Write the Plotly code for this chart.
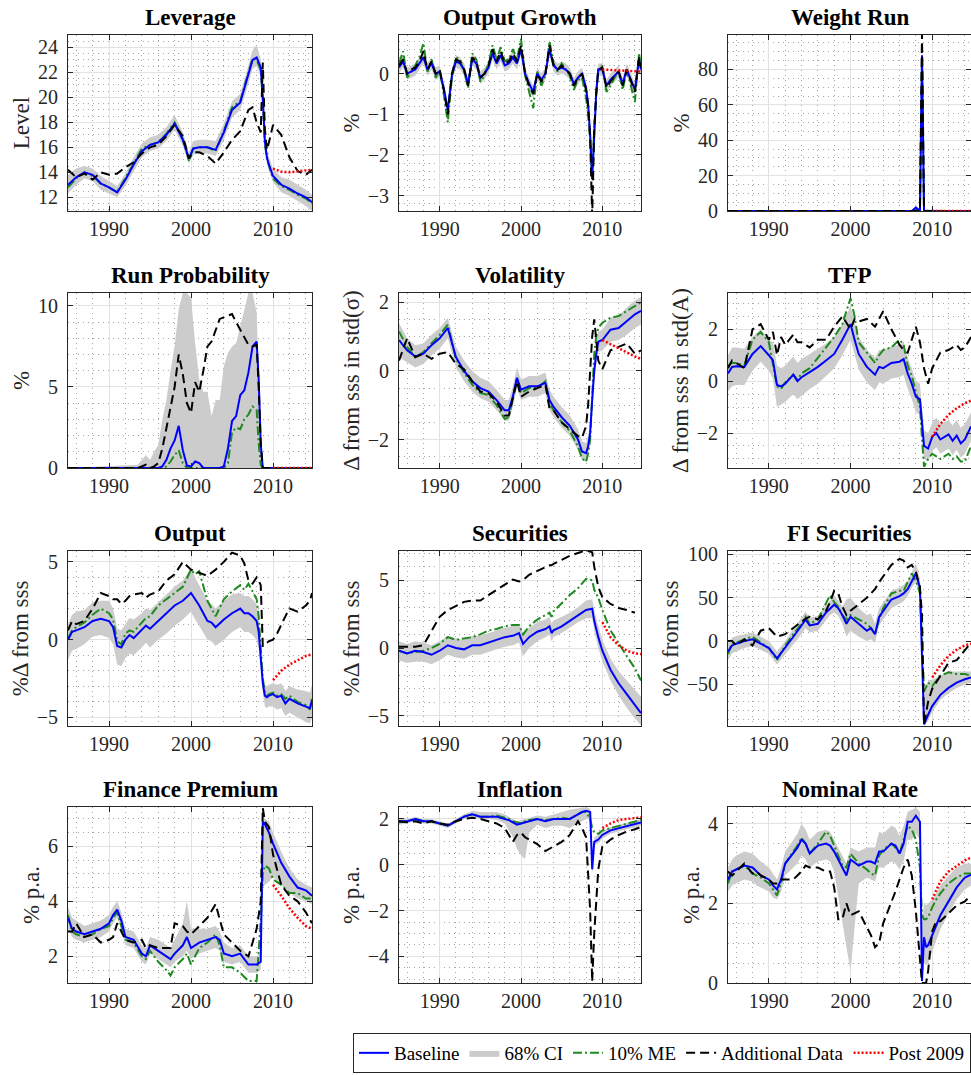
import plotly.graph_objects as go

FONT = "Liberation Serif"
W, H = 971, 1075

post_t = [2010, 2011, 2012, 2013, 2014, 2014.75]

# ---------------- Leverage ----------------
lev_t = [1985, 1986, 1987, 1988, 1989, 1990, 1991, 1992, 1993, 1994, 1995, 1996, 1997, 1998, 1999, 1999.75, 2000.25,
         2001, 2002, 2003, 2004, 2005, 2006, 2007, 2007.5, 2008, 2008.5, 2008.75, 2009, 2009.25, 2009.5, 2010, 2011,
         2012, 2013, 2014, 2014.75]
lev_base = [13.0, 13.6, 14.0, 13.8, 13.1, 12.8, 12.4, 13.4, 14.6, 15.7, 16.2, 16.4, 17.0, 17.9, 16.6, 15.1, 15.9, 16.0,
            16.0, 15.8, 17.2, 19.0, 19.6, 21.8, 23.0, 23.2, 22.4, 20.0, 16.5, 15.2, 14.6, 13.7, 13.0, 12.7, 12.3, 12.0, 11.6]
lev_lo = [12.3, 13.0, 13.5, 13.3, 12.6, 12.3, 12.0, 12.9, 14.1, 15.2, 15.7, 15.9, 16.5, 17.4, 16.1, 14.7, 15.4, 15.5,
          15.5, 15.3, 16.6, 18.4, 19.0, 21.1, 22.3, 22.5, 21.7, 19.4, 16.0, 14.7, 14.1, 13.2, 12.4, 12.1, 11.7, 11.3, 10.9]
lev_hi = [13.8, 14.3, 14.5, 14.3, 13.7, 13.3, 12.9, 13.9, 15.2, 16.3, 16.8, 17.0, 17.6, 18.6, 17.2, 15.6, 16.5, 16.6,
          16.6, 16.5, 17.9, 19.7, 20.3, 22.6, 23.8, 24.2, 23.1, 20.7, 17.0, 15.8, 15.2, 14.3, 13.6, 13.4, 13.0, 12.6, 12.2]
lev_me = [12.8, 13.5, 14.0, 13.7, 13.1, 12.8, 12.4, 13.5, 14.7, 15.9, 16.2, 16.4, 17.1, 18.0, 16.7, 14.9, 15.9, 16.0,
          16.0, 15.7, 17.3, 19.2, 19.7, 22.0, 23.1, 23.0, 22.2, 19.8, 16.3, 15.1, 14.5, 13.5, 12.9, 12.6, 12.2, 11.9, 11.5]
lev_add = [14.2, 13.6, 13.9, 13.4, 14.0, 13.8, 13.9, 14.4, 14.8, 15.5, 16.0, 16.2, 16.9, 17.8, 16.9, 15.1, 15.6, 15.6,
           15.3, 14.7, 15.6, 16.6, 17.3, 19.0, 19.2, 18.0, 17.2, 22.8, 17.5, 15.8, 16.4, 17.8, 17.0, 15.2, 14.1, 13.8, 14.2]
lev_post = [14.3, 14.05, 14.0, 14.05, 14.15, 14.2]

# ---------------- Output Growth ----------------
og_t = [1985, 1985.5, 1986, 1986.5, 1987, 1987.5, 1988, 1988.5, 1989, 1989.5, 1990, 1990.5, 1991, 1991.5, 1992, 1992.5,
        1993, 1993.5, 1994, 1994.5, 1995, 1995.5, 1996, 1996.5, 1997, 1997.5, 1998, 1998.5, 1999, 1999.5, 2000, 2000.5,
        2001, 2001.5, 2002, 2002.5, 2003, 2003.5, 2004, 2004.5, 2005, 2005.5, 2006, 2006.5, 2007, 2007.5, 2008, 2008.25,
        2008.5, 2008.75, 2009, 2009.25, 2009.5, 2010, 2010.5, 2011, 2011.5, 2012, 2012.5, 2013, 2013.5, 2014, 2014.5,
        2014.75]
og_base = [0.15, 0.3, 0.0, 0.05, 0.1, 0.25, 0.4, 0.1, 0.25, 0.0,
           0.05, -0.35, -0.9, -0.05, 0.3, 0.25, 0.1, -0.25, 0.35, 0.25,
           -0.1, 0.0, 0.15, 0.5, 0.25, 0.45, 0.2, 0.25, 0.4, 0.25,
           0.6, 0.0, -0.25, -0.45, 0.0, -0.15, 0.0, 0.6, 0.2, 0.1,
           0.15, 0.1, 0.0, -0.25, -0.1, 0.0, -0.35, -0.75, -1.5, -2.6,
           -1.3, -0.45, 0.1, 0.1, -0.3, -0.15, -0.05, 0.05, -0.25, 0.1,
           -0.15, -0.4, 0.35, 0.1]
og_lo = [0.0, 0.15, -0.15, -0.1, -0.05, 0.1, 0.25, -0.05, 0.1, -0.15,
         -0.1, -0.5, -1.05, -0.2, 0.15, 0.1, -0.05, -0.4, 0.2, 0.1,
         -0.25, -0.15, 0.0, 0.35, 0.1, 0.3, 0.05, 0.1, 0.25, 0.1,
         0.45, -0.15, -0.4, -0.6, -0.15, -0.3, -0.15, 0.45, 0.05, -0.05,
         0.0, -0.05, -0.15, -0.4, -0.25, -0.15, -0.5, -0.9, -1.65, -2.75,
         -1.45, -0.6, -0.05, -0.05, -0.45, -0.3, -0.2, -0.1, -0.4, -0.05,
         -0.3, -0.55, 0.2, -0.05]
og_hi = [0.3, 0.45, 0.15, 0.2, 0.25, 0.4, 0.55, 0.25, 0.4, 0.15,
         0.2, -0.2, -0.75, 0.1, 0.45, 0.4, 0.25, -0.1, 0.5, 0.4,
         0.05, 0.15, 0.3, 0.65, 0.4, 0.6, 0.35, 0.4, 0.55, 0.4,
         0.75, 0.15, -0.1, -0.3, 0.15, 0.0, 0.15, 0.75, 0.35, 0.25,
         0.3, 0.25, 0.15, -0.1, 0.05, 0.15, -0.2, -0.6, -1.35, -2.45,
         -1.15, -0.3, 0.25, 0.25, -0.15, 0.0, 0.1, 0.2, -0.1, 0.25,
         0.0, -0.25, 0.5, 0.25]
og_me = [0.25, 0.55, -0.1, 0.05, 0.2, 0.4, 0.75, 0.05, 0.35, -0.1,
         0.1, -0.5, -1.2, -0.1, 0.4, 0.35, 0.05, -0.35, 0.5, 0.35,
         -0.2, -0.05, 0.25, 0.7, 0.35, 0.65, 0.3, 0.35, 0.6, 0.35,
         0.85, -0.05, -0.45, -0.85, 0.05, -0.3, -0.05, 0.8, 0.25, 0.05,
         0.25, 0.1, -0.05, -0.4, -0.15, -0.1, -0.6, -1.0, -1.6, -2.6,
         -1.3, -0.5, 0.1, 0.2, -0.45, -0.3, -0.1, 0.05, -0.4, 0.1,
         -0.3, -0.7, 0.5, 0.2]
og_add = [0.2, 0.35, 0.0, 0.1, 0.15, 0.3, 0.55, 0.1, 0.3, 0.0,
          0.1, -0.4, -1.0, 0.0, 0.35, 0.3, 0.1, -0.3, 0.4, 0.3,
          -0.1, 0.0, 0.2, 0.6, 0.3, 0.55, 0.25, 0.3, 0.5, 0.3,
          0.7, 0.0, -0.3, -0.5, 0.0, -0.2, 0.0, 0.7, 0.2, 0.1,
          0.2, 0.1, 0.0, -0.3, -0.1, 0.0, -0.4, -0.8, -1.6, -3.5,
          -1.4, -0.5, 0.1, 0.15, -0.35, -0.2, -0.05, 0.05, -0.3, 0.1,
          -0.2, -0.45, 0.4, 0.15]
og_post = [0.1, 0.09, 0.08, 0.07, 0.06, 0.05]

# ---------------- Weight Run ----------------
wr_t = [1985, 2007.5, 2008, 2008.25, 2008.5, 2008.75, 2009, 2014.75]
wr_base = [0, 0, 2, 1, 0, 88, 0, 0]
wr_lo = [0, 0, 1, 0, 0, 80, 0, 0]
wr_hi = [0, 0, 3, 2, 1, 95, 1, 0]
wr_me = [0, 0, 1, 0.5, 0, 86, 0, 0]
wr_add = [0, 0, 0, 0, 0, 100, 0, 0]
wr_post = [0, 0, 0, 0, 0, 0]

# ---------------- Run Probability ----------------
rp_t = [1985, 1993.5, 1994.5, 1995, 1995.5, 1996, 1996.5, 1997, 1997.5, 1998, 1998.5, 1999, 1999.5, 2000, 2000.5, 2001,
        2001.5, 2002, 2002.5, 2003, 2003.5, 2004, 2004.5, 2005, 2005.5, 2006, 2006.5, 2007, 2007.5, 2008, 2008.25,
        2008.5, 2008.75, 2009, 2014.75]
rp_base = [0, 0, 0, 0, 0, 0, 0.1, 0.5, 1.2, 1.7, 2.6, 1.1, 0.15, 0.1, 0.4, 0.3, 0.0, 0, 0, 0, 0, 0.1, 1.2, 2.9, 3.2,
           4.5, 4.8, 5.9, 7.5, 7.8, 5.5, 1.5, 0, 0, 0]
rp_lo = [0, 0, 0, 0, 0, 0, 0, 0, 0, 0, 0, 0, 0, 0, 0, 0, 0, 0, 0, 0, 0, 0, 0, 0, 0, 0, 0, 0, 0, 0, 0, 0, 0, 0, 0]
rp_hi = [0, 0.2, 0.8, 0.5, 1.0, 1.4, 3.0, 4.2, 6.0, 7.5, 9.8, 10.8, 10.8, 10.5, 7.7, 5.5, 4.7, 4.7, 3.2, 4.2, 4.2, 6.3,
         7.1, 7.5, 7.7, 8.8, 9.8, 10.8, 10.8, 9.6, 5.7, 2.0, 0, 0, 0]
rp_me = [0, 0, 0, 0, 0, 0, 0, 0.1, 0.4, 0.8, 1.1, 0.3, 0, 0, 0, 0, 0, 0, 0, 0, 0, 0, 0.3, 2.2, 2.5, 2.4, 3.0, 3.3, 3.8,
         3.6, 1.5, 0.2, 0, 0, 0]
rp_add = [0, 0, 0.2, 0.0, 0.1, 0.3, 1.2, 2.5, 3.6, 5.0, 7.0, 5.8, 4.0, 3.4, 5.3, 4.7, 6.0, 7.5, 7.8, 8.5, 9.2, 9.3, 9.4,
          9.5, 9.0, 8.5, 8.0, 7.6, 7.5, 7.6, 5.0, 1.5, 0, 0, 0]
rp_post = [0, 0, 0, 0, 0, 0]

# ---------------- Volatility ----------------
vol_t = [1985, 1986, 1987, 1988, 1989, 1990, 1991, 1992, 1993, 1994, 1995, 1996, 1997, 1998, 1998.5, 1999, 1999.5, 2000,
         2001, 2002, 2003, 2003.5, 2004, 2005, 2006, 2007, 2007.5, 2008, 2008.25, 2008.5, 2008.75, 2009, 2009.25,
         2009.5, 2010, 2011, 2012, 2013, 2014, 2014.75]
vol_base = [0.9, 0.6, 0.42, 0.5, 0.75, 0.95, 1.25, 0.4, 0.0, -0.3, -0.5, -0.6, -0.85, -1.15, -1.15, -0.75, -0.2, -0.55,
            -0.45, -0.45, -0.35, -0.85, -1.05, -1.35, -1.6, -2.0, -2.35, -2.4, -2.2, -1.8, -0.85, 0.0, 0.5, 0.85, 0.9,
            1.2, 1.25, 1.45, 1.65, 1.75]
vol_lo = [0.4, 0.25, 0.1, 0.2, 0.45, 0.65, 0.95, 0.1, -0.3, -0.6, -0.8, -0.9, -1.15, -1.45, -1.45, -1.05, -0.5, -0.85,
          -0.75, -0.75, -0.65, -1.15, -1.35, -1.65, -1.9, -2.3, -2.6, -2.65, -2.45, -2.1, -1.15, -0.3, 0.2, 0.55, 0.6,
          0.85, 0.9, 1.05, 1.25, 1.35]
vol_hi = [1.4, 0.95, 0.75, 0.8, 1.05, 1.25, 1.55, 0.7, 0.3, 0.0, -0.2, -0.3, -0.55, -0.85, -0.85, -0.45, 0.1, -0.25,
          -0.15, -0.15, -0.05, -0.55, -0.75, -1.05, -1.3, -1.7, -2.05, -2.1, -1.9, -1.5, -0.55, 0.3, 0.8, 1.15, 1.2,
          1.55, 1.6, 1.85, 2.05, 2.15]
vol_me = [1.15, 0.7, 0.4, 0.55, 0.8, 1.05, 1.35, 0.35, -0.05, -0.4, -0.65, -0.7, -1.0, -1.4, -1.35, -0.8, -0.2, -0.65,
          -0.5, -0.5, -0.3, -0.95, -1.15, -1.5, -1.75, -2.2, -2.55, -2.65, -2.4, -2.0, -0.6, 0.5, 1.0, 1.25, 1.4, 1.55,
          1.6, 1.75, 1.9, 2.0]
vol_add = [0.3, 0.95, 0.4, 0.5, 0.35, 0.5, 0.55, 0.2, 0.05, -0.3, -0.6, -0.65, -0.9, -1.3, -1.3, -0.8, -0.3, -0.75,
           -0.6, -0.5, -0.4, -1.1, -1.15, -1.5, -1.7, -1.9, -1.95, -1.6, -1.0, 0.0, 1.0, 1.5, 0.8, 0.3, 0.05, 0.6, 0.7,
           0.8, 0.5, 0.6]
vol_post = [0.9, 0.78, 0.65, 0.53, 0.42, 0.35]

# ---------------- TFP ----------------
tfp_t = [1985, 1985.5, 1986, 1987, 1988, 1989, 1990, 1990.5, 1991, 1991.5, 1992, 1993, 1993.5, 1994, 1995, 1996, 1997,
         1998, 1999, 2000, 2000.5, 2001, 2002, 2003, 2003.5, 2004, 2005, 2006, 2006.5, 2007, 2007.5, 2008, 2008.5,
         2008.75, 2009, 2009.5, 2010, 2010.5, 2011, 2012, 2012.5, 2013, 2013.5, 2014, 2014.75]
tfp_base = [0.3, 0.55, 0.57, 0.55, 1.05, 1.35, 1.0, 0.8, -0.15, -0.2, -0.1, 0.25, 0.0, 0.15, 0.35, 0.55, 0.8, 1.05, 1.6,
            2.2, 1.6, 1.05, 0.55, 0.25, 0.55, 0.5, 0.7, 0.75, 0.85, 0.3, -0.1, -0.6, -0.7, -1.5, -2.5, -2.6, -2.15,
            -2.0, -2.25, -2.05, -2.3, -2.1, -2.4, -2.25, -1.75]
tfp_lo = [-0.4, -0.2, -0.15, -0.15, 0.4, 0.75, 0.4, 0.1, -1.0, -0.9, -0.8, -0.5, -0.7, -0.55, -0.3, -0.1, 0.2, 0.5, 1.0,
          1.6, 1.0, 0.45, -0.05, -0.35, -0.05, -0.1, 0.1, 0.15, 0.25, -0.3, -0.7, -1.2, -1.3, -2.1, -3.0, -3.1, -2.7,
          -2.55, -2.8, -2.6, -2.85, -2.65, -2.95, -2.8, -2.3]
tfp_hi = [1.0, 1.3, 1.3, 1.25, 1.7, 2.0, 1.6, 1.5, 0.6, 0.5, 0.6, 0.95, 0.7, 0.85, 1.05, 1.25, 1.45, 1.7, 2.2, 2.9, 2.3,
          1.7, 1.2, 0.9, 1.2, 1.2, 1.35, 1.4, 1.5, 0.9, 0.5, 0.0, -0.1, -0.9, -1.9, -2.0, -1.6, -1.4, -1.65, -1.5,
          -1.7, -1.5, -1.8, -1.65, -1.2]
tfp_me = [0.6, 0.7, 0.7, 0.6, 1.6, 1.9, 1.5, 0.7, -0.2, -0.3, -0.05, 0.25, 0.05, 0.3, 0.5, 0.9, 1.3, 1.7, 2.2, 3.2, 2.5,
          1.5, 1.1, 0.7, 1.0, 1.2, 1.3, 1.6, 1.4, 0.6, 0.2, -0.4, -1.0, -2.2, -3.3, -3.0, -2.8, -2.9, -3.0, -2.8, -3.0,
          -2.9, -3.1, -3.1, -2.5]
tfp_add = [0.5, 0.8, 0.7, 0.5, 2.0, 2.2, 1.6, 1.9, 1.0, 1.7, 1.4, 1.8, 1.5, 1.5, 1.3, 1.6, 1.6, 2.1, 2.5, 2.0, 2.4, 2.3,
           2.4, 2.1, 2.4, 2.7, 2.0, 1.4, 1.2, 1.1, 1.6, 2.1, 1.5, 1.0, 0.5, -0.1, 0.5, 0.8, 1.1, 1.2, 1.3, 1.4, 1.2, 1.3,
           1.7]
tfp_post = [-2.15, -1.65, -1.3, -1.05, -0.85, -0.75]

# ---------------- Output ----------------
out_t = [1985, 1985.5, 1986, 1987, 1988, 1989, 1990, 1990.5, 1991, 1991.5, 1992, 1992.5, 1993, 1994, 1994.5, 1995, 1996,
         1997, 1998, 1999, 2000, 2000.5, 2001, 2002, 2002.5, 2003, 2004, 2005, 2006, 2006.5, 2007, 2007.5, 2008,
         2008.25, 2008.5, 2008.75, 2009, 2009.25, 2009.5, 2010, 2010.5, 2011, 2011.5, 2012, 2013, 2014, 2014.5, 2014.75]
out_base = [0.0, 0.5, 0.6, 0.8, 1.2, 1.35, 1.2, 0.8, -0.4, -0.5, 0.0, 0.3, 0.1, 0.6, 0.9, 0.7, 1.2, 1.7, 2.2, 2.5, 3.0,
            2.6, 2.2, 1.2, 1.1, 0.8, 1.3, 1.7, 2.0, 1.7, 1.7, 1.5, 1.2, 0.5, -1.0, -2.8, -3.6, -3.7, -3.6, -3.5, -3.7,
            -3.6, -4.1, -3.8, -4.1, -4.3, -4.4, -3.9]
out_lo = [-1.3, -0.7, -0.6, -0.3, 0.2, 0.3, 0.1, -0.3, -1.6, -1.7, -1.2, -0.9, -1.0, -0.5, -0.2, -0.5, 0.0, 0.4, 0.9,
          1.3, 1.8, 1.3, 0.9, 0.0, -0.1, -0.4, 0.0, 0.5, 0.8, 0.5, 0.5, 0.3, 0.0, -0.6, -1.8, -3.4, -4.3, -4.4, -4.3,
          -4.3, -4.5, -4.4, -4.9, -4.7, -5.0, -5.3, -5.4, -5.0]
out_hi = [1.0, 1.6, 1.8, 1.9, 2.4, 2.5, 2.5, 2.0, 0.7, 0.6, 1.0, 1.4, 1.3, 1.7, 2.0, 1.9, 2.4, 2.9, 3.4, 3.8, 4.6, 4.0,
          3.5, 2.5, 2.3, 2.0, 2.5, 2.9, 3.0, 2.8, 2.8, 2.6, 2.3, 1.5, -0.2, -2.2, -2.9, -3.0, -2.9, -2.8, -2.9, -2.8,
          -3.3, -3.0, -3.2, -3.3, -3.4, -2.9]
out_me = [0.1, 0.6, 0.8, 1.1, 1.6, 2.0, 1.7, 1.3, -0.1, -0.3, 0.4, 0.6, 0.5, 1.1, 1.4, 1.5, 2.2, 2.6, 3.0, 3.4, 4.5, 4.2,
          4.4, 2.5, 2.0, 1.5, 2.6, 3.1, 3.5, 3.2, 3.6, 3.1, 2.6, 1.5, -0.5, -2.5, -3.4, -3.6, -3.5, -3.4, -3.6, -3.5,
          -3.8, -3.6, -4.0, -4.2, -4.5, -3.7]
out_add = [0.6, 1.2, 1.0, 1.2, 2.0, 3.0, 2.8, 2.6, 2.6, 2.3, 2.5, 2.8, 2.9, 3.0, 2.7, 2.9, 3.1, 3.8, 4.2, 5.0, 4.5, 4.4,
           4.3, 4.1, 4.3, 4.5, 5.0, 5.6, 5.4, 4.9, 3.8, 3.6, 4.0, 3.8, 3.5, -0.4, -0.4, -0.2, -0.1, 0.0, 0.4, 1.0, 1.5,
           2.0, 1.8, 2.2, 2.5, 3.0]
out_post = [-2.6, -2.0, -1.6, -1.3, -1.05, -0.95]

# ---------------- Securities ----------------
sec_t = [1985, 1986, 1987, 1988, 1989, 1990, 1991, 1992, 1993, 1994, 1995, 1996, 1997, 1998, 1999, 1999.75, 2000.25,
         2001, 2002, 2003, 2003.5, 2003.75, 2004, 2005, 2006, 2007, 2008, 2008.75, 2009, 2009.5, 2010, 2011, 2012,
         2013, 2014, 2014.75]
sec_base = [-0.2, -0.4, -0.2, -0.3, -0.5, -0.2, 0.2, 0.0, -0.1, 0.2, 0.2, 0.4, 0.6, 0.8, 0.9, 1.1, 0.3, 0.8, 1.2, 1.4,
            1.6, 1.1, 1.3, 1.6, 2.0, 2.4, 2.8, 2.9, 2.0, 0.8, -0.2, -1.6, -2.6, -3.4, -4.2, -4.8]
sec_lo = [-0.9, -1.1, -1.0, -1.0, -1.2, -0.9, -0.5, -0.7, -0.8, -0.5, -0.5, -0.3, -0.1, 0.1, 0.2, 0.4, -0.6, 0.0, 0.5,
          0.8, 1.0, 0.5, 0.8, 1.1, 1.5, 1.9, 2.2, 2.2, 1.3, 0.0, -1.0, -2.4, -3.5, -4.4, -5.2, -5.7]
sec_hi = [0.5, 0.3, 0.5, 0.4, 0.2, 0.5, 0.9, 0.7, 0.6, 0.9, 0.9, 1.1, 1.3, 1.5, 1.6, 1.8, 1.1, 1.5, 1.9, 2.1, 2.3, 1.8,
          2.0, 2.3, 2.6, 3.0, 3.5, 3.6, 2.8, 1.6, 0.6, -0.8, -1.7, -2.4, -3.1, -3.6]
sec_me = [-0.2, -0.4, -0.3, -0.2, 0.0, 0.3, 0.8, 0.6, 0.7, 0.8, 1.0, 1.3, 1.4, 1.6, 1.7, 1.7, 1.0, 1.6, 2.1, 2.4, 2.6,
          2.3, 2.7, 3.3, 3.9, 4.4, 5.1, 5.0, 4.3, 3.7, 2.8, 1.3, 0.3, -0.6, -1.5, -2.4]
sec_add = [0.1, 0.1, 0.1, 0.2, 1.3, 2.3, 2.8, 3.1, 3.4, 3.5, 3.5, 3.9, 4.3, 4.7, 5.05, 4.9, 5.0, 5.4, 5.7, 6.0, 6.1,
           6.1, 6.2, 6.5, 6.8, 7.0, 7.2, 7.05, 6.0, 4.5, 3.75, 3.25, 2.95, 2.8, 2.6, None]
sec_post = [1.9, 0.8, 0.2, -0.2, -0.4, -0.45]

# ---------------- FI Securities ----------------
fis_t = [1985, 1985.5, 1986, 1987, 1988, 1989, 1990, 1991, 1992, 1993, 1994, 1994.5, 1995, 1996, 1997, 1997.5, 1998,
         1998.5, 1999, 1999.5, 2000, 2001, 2002, 2002.5, 2003, 2003.5, 2004, 2005, 2006, 2006.5, 2007, 2007.5, 2008,
         2008.5, 2008.75, 2009, 2009.5, 2010, 2011, 2012, 2013, 2014, 2014.75]
fis_base = [-12, -5, -3, 0, 2, -3, -8, -20, -8, 5, 18, 25, 18, 20, 33, 38, 42, 38, 30, 20, 28, 20, 12, 15, 8, 28, 35,
            48, 52, 55, 60, 70, 78, 62, -20, -96, -85, -75, -62, -54, -48, -44, -42]
fis_lo = [-22, -14, -12, -8, -6, -10, -15, -27, -16, -4, 8, 15, 10, 12, 24, 30, 33, 29, 20, 5, 12, 5, 0, 2, -2, 18, 25,
          38, 43, 46, 52, 62, 68, 52, -30, -98, -92, -82, -68, -60, -54, -50, -48]
fis_hi = [-2, 4, 6, 8, 10, 5, 0, -12, 0, 14, 28, 34, 27, 29, 42, 47, 52, 47, 40, 48, 50, 38, 30, 32, 20, 38, 45, 58, 62,
          65, 70, 80, 90, 72, -10, -60, -45, -45, -40, -35, -35, -35, -35]
fis_me = [-15, -2, -2, 2, 5, -2, -8, -22, -5, 8, 20, 28, 20, 25, 45, 53, 45, 40, 30, 25, 30, 25, 20, 15, 8, 25, 38, 55,
          58, 58, 68, 78, 70, 55, 0, -58, -48, -52, -40, -36, -38, -38, -40]
fis_add = [0, 0, -5, 2, -5, 12, 15, 5, 8, 15, 22, 26, 28, 25, 35, 45, 58, 55, 40, 30, 35, 42, 50, 55, 60, 68, 75, 88, 95,
           93, 85, 88, 80, 62, 30, -96, -70, -55, -40, -25, -22, -10, -2]
fis_post = [-42, -28, -17, -10, -5, -3]

# ---------------- Finance Premium ----------------
fp_t = [1985, 1985.5, 1986, 1987, 1988, 1989, 1990, 1990.5, 1991, 1991.5, 1992, 1993, 1994, 1994.5, 1995, 1996, 1997,
        1997.5, 1998, 1999, 1999.5, 2000, 2001, 2002, 2003, 2003.5, 2004, 2005, 2006, 2007, 2008, 2008.5, 2008.75,
        2009, 2009.5, 2010, 2011, 2012, 2013, 2014, 2014.75]
fp_base = [3.4, 3.0, 2.9, 2.8, 2.9, 3.0, 3.2, 3.5, 3.7, 3.3, 2.7, 2.6, 2.1, 2.0, 2.4, 2.2, 2.0, 1.9, 2.1, 2.4, 2.7, 2.3,
           2.5, 2.6, 2.7, 2.6, 2.1, 2.0, 2.1, 1.7, 1.7, 1.8, 6.9, 6.8, 6.5, 6.1, 5.4, 4.9, 4.5, 4.4, 4.2]
fp_lo = [3.0, 2.7, 2.6, 2.5, 2.6, 2.7, 2.9, 3.2, 3.4, 3.0, 2.4, 2.3, 1.8, 1.7, 2.1, 1.9, 1.7, 1.6, 1.8, 2.0, 2.2, 1.9,
         2.1, 2.2, 2.3, 2.2, 1.8, 1.7, 1.8, 1.4, 1.4, 1.5, 4.5, 4.6, 4.7, 4.9, 4.6, 4.3, 4.1, 4.0, 3.9]
fp_hi = [3.8, 3.4, 3.3, 3.1, 3.2, 3.3, 3.5, 3.8, 4.0, 3.6, 3.0, 2.9, 2.4, 2.3, 2.7, 2.6, 2.4, 2.3, 2.6, 3.2, 4.0, 3.0,
         3.0, 3.0, 3.1, 2.9, 2.5, 2.3, 2.4, 2.0, 2.0, 2.1, 7.2, 7.0, 6.9, 6.5, 5.8, 5.2, 4.8, 4.6, 4.5]
fp_me = [3.5, 2.9, 2.8, 2.7, 2.8, 3.0, 3.1, 3.4, 3.6, 3.1, 2.6, 2.5, 2.0, 1.9, 2.2, 1.8, 1.5, 1.3, 1.6, 1.9, 2.1, 1.7,
         2.3, 2.5, 2.8, 2.4, 1.6, 1.6, 1.4, 1.1, 1.1, 3.3, 5.0, 5.3, 5.2, 4.8, 4.6, 4.3, 4.3, 4.1, 4.1]
fp_add = [2.9, 2.9, 3.2, 2.7, 2.8, 2.5, 2.6, 2.7, 3.2, 2.9, 2.6, 2.5, 2.6, 2.3, 2.4, 2.3, 2.3, 2.3, 3.2, 3.1, 2.9, 2.8,
          3.1, 3.4, 3.9, 3.3, 2.8, 2.5, 2.2, 2.0, 3.0, 4.0, 7.4, 6.9, 6.7, 5.7, 4.6, 4.2, 4.0, 3.6, 3.2]
fp_post = [4.6, 4.2, 3.75, 3.4, 3.1, 3.0]

# ---------------- Inflation ----------------
inf_t = [1985, 1986, 1987, 1988, 1989, 1990, 1991, 1992, 1993, 1994, 1995, 1996, 1997, 1998, 1998.5, 1999, 1999.5, 2000,
         2000.5, 2001, 2002, 2003, 2004, 2005, 2006, 2007, 2007.5, 2008, 2008.5, 2008.75, 2009, 2009.5, 2010, 2011,
         2012, 2013, 2014, 2014.75]
inf_base = [1.9, 1.9, 2.0, 1.9, 1.9, 1.8, 1.7, 1.9, 2.1, 2.2, 2.1, 2.1, 2.1, 2.0, 1.95, 1.85, 1.75, 1.8, 1.85, 1.9, 2.0,
            1.9, 2.0, 2.0, 2.0, 2.2, 2.3, 2.35, 2.3, -0.2, 1.0, 1.1, 1.3, 1.5, 1.6, 1.7, 1.8, 1.85]
inf_lo = [1.75, 1.8, 1.9, 1.8, 1.8, 1.7, 1.6, 1.8, 2.0, 2.1, 2.0, 2.0, 1.95, 1.8, 1.5, 1.2, 0.7, 0.4, 0.25, 1.4, 1.75,
          1.6, 1.7, 1.7, 1.6, 1.8, 1.9, 2.0, 2.0, -0.4, 0.85, 0.95, 1.15, 1.35, 1.45, 1.55, 1.65, 1.7]
inf_hi = [2.0, 2.0, 2.1, 2.0, 2.0, 1.9, 1.8, 2.0, 2.2, 2.35, 2.3, 2.3, 2.3, 2.2, 2.1, 2.0, 1.9, 1.95, 2.0, 2.05, 2.15,
          2.1, 2.2, 2.3, 2.4, 2.45, 2.5, 2.5, 2.45, 0.0, 1.2, 1.3, 1.45, 1.65, 1.75, 1.85, 1.95, 2.0]
inf_me = [1.85, 1.9, 2.0, 1.9, 1.9, 1.8, 1.7, 1.9, 2.1, 2.2, 2.1, 2.1, 2.15, 2.05, 2.0, 1.9, 1.85, 1.8, 1.9, 1.95, 2.0,
          1.95, 2.0, 2.05, 2.0, 2.2, 2.3, 2.3, 2.0, 1.6, 1.4, 1.35, 1.5, 1.6, 1.7, 1.8, 1.9, 1.95]
inf_add = [1.9, 1.85, 1.9, 1.8, 1.9, 1.8, 1.75, 1.9, 2.0, 2.05, 2.0, 1.9, 1.8, 1.6, 1.3, 1.0, 1.3, 1.4, 1.2, 1.1, 0.9,
           0.6, 0.8, 1.0, 1.3, 1.9, 1.6, 1.2, -2.0, -5.1, -3.0, -0.2, 0.8, 1.1, 1.3, 1.45, 1.55, 1.65]
inf_post = [1.6, 1.8, 1.95, 2.0, 2.05, 2.07]

# ---------------- Nominal Rate ----------------
nr_t = [1985, 1985.5, 1986, 1987, 1988, 1988.5, 1989, 1990, 1990.5, 1991, 1991.5, 1992, 1993, 1993.5, 1994, 1994.5,
        1995, 1996, 1997, 1997.5, 1998, 1998.5, 1999, 1999.5, 2000, 2001, 2002, 2002.5, 2003, 2003.5, 2004, 2005,
        2005.5, 2006, 2006.5, 2007, 2007.5, 2008, 2008.5, 2008.75, 2009, 2009.25, 2009.5, 2010, 2010.5, 2011, 2012,
        2013, 2014, 2014.75]
nr_base = [2.6, 2.8, 2.85, 2.95, 2.9, 2.8, 2.7, 2.6, 2.45, 2.35, 2.6, 3.0, 3.25, 3.4, 3.6, 3.5, 3.25, 3.45, 3.5, 3.45,
           3.3, 3.1, 2.9, 2.7, 3.1, 2.95, 3.05, 3.05, 3.0, 3.3, 3.3, 3.5, 3.45, 3.25, 3.5, 4.05, 4.05, 4.2, 4.05, 0.05,
           1.15, 0.9, 0.95, 1.2, 1.45, 1.7, 2.05, 2.4, 2.65, 2.72]
nr_lo = [2.3, 2.45, 2.5, 2.6, 2.55, 2.45, 2.4, 2.3, 2.15, 2.1, 2.3, 2.7, 2.9, 3.0, 3.2, 3.1, 2.9, 3.05, 3.1, 3.05, 2.8,
         2.2, 1.5, 0.9, 0.3, 2.5, 2.65, 2.6, 2.55, 2.9, 2.9, 3.05, 3.0, 2.85, 3.05, 3.6, 3.6, 3.75, 3.6, 0.0, 0.5, 0.45,
         0.5, 0.8, 1.05, 1.35, 1.75, 2.1, 2.35, 2.45]
nr_hi = [2.9, 3.1, 3.2, 3.3, 3.25, 3.15, 3.05, 2.9, 2.75, 2.6, 2.9, 3.3, 3.6, 3.75, 4.0, 3.85, 3.6, 3.8, 3.85, 3.8, 3.6,
         3.4, 3.2, 3.0, 3.4, 3.3, 3.4, 3.4, 3.4, 3.8, 3.75, 3.95, 3.9, 3.7, 3.95, 4.3, 4.35, 4.4, 4.3, 1.5, 2.0, 1.95,
         2.0, 2.1, 2.25, 2.45, 2.7, 2.9, 3.0, 3.0]
nr_me = [2.5, 2.8, 2.85, 2.95, 2.75, 2.7, 2.65, 2.5, 2.35, 2.2, 2.5, 3.0, 3.3, 3.45, 3.65, 3.5, 3.25, 3.5, 3.8, 3.7,
         3.45, 3.2, 2.95, 2.9, 3.25, 3.0, 2.85, 2.75, 2.7, 3.2, 3.35, 3.5, 3.4, 3.25, 3.6, 3.95, 3.85, 3.6, 2.9, 1.7,
         1.6, 1.6, 1.65, 1.9, 2.1, 2.25, 2.5, 2.65, 2.75, 2.75]
nr_add = [2.8, 2.7, 2.8, 3.0, 2.75, 2.8, 2.7, 2.6, 2.5, 2.5, 2.6, 2.6, 2.6, 2.7, 2.8, 2.95, 2.9, 2.9, 2.8, 2.8, 2.4,
          1.6, 1.6, 2.0, 1.7, 1.8, 1.4, 1.2, 0.9, 1.0, 1.5, 2.0, 2.3, 2.6, 2.9, 3.1, 2.7, 1.8, 0.5, 0.0, 0.0, 0.0, 0.3,
          1.3, 1.55, 1.55, 1.75, 1.95, 2.05, 2.2]
nr_post = [2.1, 2.55, 2.8, 2.95, 3.08, 3.15]

# (title, y label, t, base, lo, hi, me, add, post, y range, major step, minor step)
PANELS = [
    ("Leverage", "Level", lev_t, lev_base, lev_lo, lev_hi, lev_me, lev_add, lev_post, [10.9, 25.0], 2, 0.5),
    ("Output Growth", "%", og_t, og_base, og_lo, og_hi, og_me, og_add, og_post, [-3.38, 0.95], 1, 0.2),
    ("Weight Run", "%", wr_t, wr_base, wr_lo, wr_hi, wr_me, wr_add, wr_post, [0, 99.5], 20, 5),
    ("Run Probability", "%", rp_t, rp_base, rp_lo, rp_hi, rp_me, rp_add, rp_post, [0, 10.8], 5, 1),
    ("Volatility", "Δ from sss in std(σ)", vol_t, vol_base, vol_lo, vol_hi, vol_me, vol_add, vol_post,
     [-2.83, 2.27], 2, 0.5),
    ("TFP", "Δ from sss in std(A)", tfp_t, tfp_base, tfp_lo, tfp_hi, tfp_me, tfp_add, tfp_post, [-3.35, 3.4], 2, 0.5),
    ("Output", "%Δ from sss", out_t, out_base, out_lo, out_hi, out_me, out_add, out_post, [-5.55, 5.7], 5, 1),
    ("Securities", "%Δ from sss", sec_t, sec_base, sec_lo, sec_hi, sec_me, sec_add, sec_post, [-5.75, 7.15], 5, 1),
    ("FI Securities", "%Δ from sss", fis_t, fis_base, fis_lo, fis_hi, fis_me, fis_add, fis_post, [-98, 104], 50, 10),
    ("Finance Premium", "% p.a.", fp_t, fp_base, fp_lo, fp_hi, fp_me, fp_add, fp_post, [1.03, 7.43], 2, 0.5),
    ("Inflation", "% p.a.", inf_t, inf_base, inf_lo, inf_hi, inf_me, inf_add, inf_post, [-5.16, 2.52], 2, 0.5),
    ("Nominal Rate", "% p.a.", nr_t, nr_base, nr_lo, nr_hi, nr_me, nr_add, nr_post, [0, 4.42], 2, 0.5),
]

for p in PANELS:
    n = len(p[2])
    for arr in p[3:8]:
        assert len(arr) == n, (p[0], n, len(arr))

COLS = [(68, 312), (399, 641), (728, 971)]
ROWS = [(35, 211), (293, 468), (551, 726), (807, 983)]
AXC = "#262626"
GRID = "#e2e2e2"
MINORC = "#a6a6a6"

fig = go.Figure()
layout = dict(
    width=W, height=H, margin=dict(l=0, r=0, t=0, b=0, autoexpand=False),
    paper_bgcolor="white", plot_bgcolor="white",
    font=dict(family=FONT, color=AXC),
    showlegend=True,
    legend=dict(orientation="h", x=1.0, xanchor="right", y=2 / H, yanchor="bottom",
                bordercolor=AXC, borderwidth=1, bgcolor="white",
                font=dict(family=FONT, size=19, color="black"), itemwidth=30),
    annotations=[],
)

for i, (title, ylab, t, base, lo, hi, me, add, post, yr, dt, mn) in enumerate(PANELS):
    r, c = divmod(i, 3)
    k = i + 1
    sx = "" if k == 1 else str(k)
    xa, ya = "x" + sx, "y" + sx
    first = (i == 0)
    fig.add_trace(go.Scatter(x=list(t) + list(t)[::-1], y=list(hi) + list(lo)[::-1], fill="toself",
                             fillcolor="rgb(204,204,204)", line=dict(width=0, color="rgb(204,204,204)"),
                             mode="lines", name="68% CI", legendrank=2, showlegend=first,
                             xaxis=xa, yaxis=ya, hoverinfo="skip"))
    fig.add_trace(go.Scatter(x=t, y=me, mode="lines", name="10% ME", legendrank=3, showlegend=first,
                             line=dict(color="#1f8a1f", width=2, dash="9px,3px,2px,3px"), xaxis=xa, yaxis=ya))
    fig.add_trace(go.Scatter(x=t, y=base, mode="lines", name="Baseline", legendrank=1, showlegend=first,
                             line=dict(color="#0000ff", width=2), xaxis=xa, yaxis=ya))
    fig.add_trace(go.Scatter(x=t, y=add, mode="lines", name="Additional Data", legendrank=4, showlegend=first,
                             line=dict(color="black", width=2, dash="9px,5px"), xaxis=xa, yaxis=ya,
                             connectgaps=False))
    fig.add_trace(go.Scatter(x=post_t, y=post, mode="lines", name="Post 2009", legendrank=5, showlegend=first,
                             line=dict(color="#ff0000", width=2.5, dash="2px,2px"), xaxis=xa, yaxis=ya))

    x0, x1 = COLS[c]
    y0, y1 = ROWS[r]
    layout["xaxis" + sx] = dict(
        domain=[x0 / W, x1 / W], anchor=ya, range=[1985, 2014.75], automargin=False,
        tickmode="linear", tick0=1990, dtick=10, ticks="inside", ticklen=5, tickcolor=AXC,
        showline=True, linecolor=AXC, linewidth=1, mirror="ticks",
        showgrid=True, gridcolor=GRID, gridwidth=1, zeroline=False,
        tickfont=dict(family=FONT, size=20, color=AXC), ticklabelstandoff=0,
        minor=dict(tickmode="linear", tick0=1990, dtick=2, showgrid=True, gridcolor=MINORC,
                   griddash="1px,4px", gridwidth=1, ticks=""),
    )
    layout["yaxis" + sx] = dict(
        domain=[1 - y1 / H, 1 - y0 / H], anchor=xa, range=yr, automargin=False,
        tickmode="linear", tick0=0, dtick=dt, ticks="inside", ticklen=5, tickcolor=AXC,
        showline=True, linecolor=AXC, linewidth=1, mirror="ticks",
        showgrid=True, gridcolor=GRID, gridwidth=1, zeroline=False,
        tickfont=dict(family=FONT, size=20, color=AXC), ticklabelstandoff=5,
        minor=dict(tickmode="linear", tick0=0, dtick=mn, showgrid=True, gridcolor=MINORC,
                   griddash="1px,4px", gridwidth=1, ticks=""),
        title=dict(text=ylab, font=dict(family=FONT, size=23, color=AXC), standoff=1),
    )
    layout["annotations"].append(dict(
        text="<b>" + title + "</b>", xref="paper", yref="paper",
        x=(x0 + x1) / 2 / W, y=1 - (y0 - 3) / H, xanchor="center", yanchor="bottom",
        showarrow=False, font=dict(family=FONT, size=23, color="black")))

fig.update_layout(**layout)
fig.write_html("out.html")
